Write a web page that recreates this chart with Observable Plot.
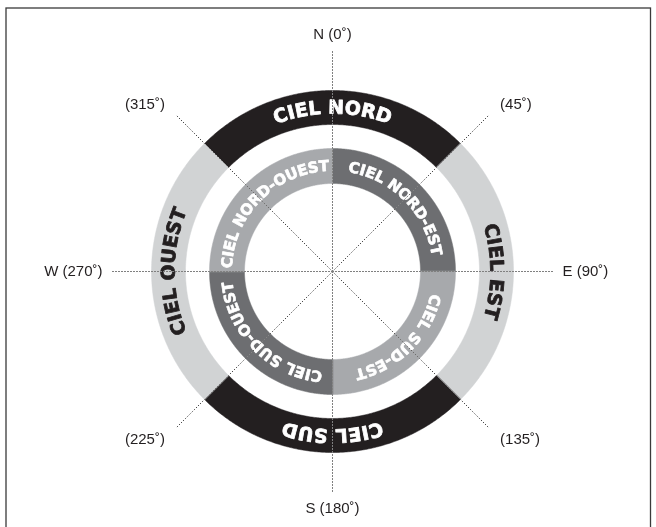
<!DOCTYPE html>
<html><head><meta charset="utf-8">
<script src="https://cdn.jsdelivr.net/npm/d3@7"></script>
<script src="https://cdn.jsdelivr.net/npm/@observablehq/plot@0.6"></script>
<style>body{margin:0;background:#fff} #chart svg{display:block}</style>
</head><body><div id="chart"></div>
<script>
// ---- data ----
const outerNames = ["CIEL NORD", "CIEL EST", "CIEL SUD", "CIEL OUEST"];
const outerAngles = [0, 90, 180, 270];
const outerFills = ["#231f20", "#d1d3d4", "#231f20", "#d1d3d4"];
const outerTextColors = ["#ffffff", "#231f20", "#ffffff", "#231f20"];
const innerNames = ["CIEL NORD-EST", "CIEL SUD-EST", "CIEL SUD-OUEST", "CIEL NORD-OUEST"];
const innerAngles = [45, 135, 225, 315];
const innerFills = ["#6d6e71", "#a7a9ac", "#6d6e71", "#a7a9ac"];
const innerTextColors = ["#ffffff", "#ffffff", "#ffffff", "#ffffff"];
const compassLabels = ["N (0˚)", "(45˚)", "E (90˚)", "(135˚)", "S (180˚)", "(225˚)", "W (270˚)", "(315˚)"];
const compassAngles = [0, 45, 90, 135, 180, 225, 270, 315];

// ---- layout ----
const W = 656, H = 527, CX = 332, CY = 271;
const OUTER = [147, 181], INNER = [88, 123];
const LINE_LEN = 222;
const rad = d => d * Math.PI / 180;
const px = (r, a) => r * Math.sin(rad(a));
const py = (r, a) => r * Math.cos(rad(a));

function ringPolys(names, centers, fills, radii, span) {
  const pts = [];
  names.forEach((n, i) => {
    const a0 = centers[i] - span / 2, a1 = centers[i] + span / 2;
    const steps = 180;
    for (let k = 0; k <= steps; k++) {
      const a = a0 + (a1 - a0) * k / steps;
      pts.push({id: n, fill: fills[i], x: px(radii[1], a), y: py(radii[1], a)});
    }
    for (let k = steps; k >= 0; k--) {
      const a = a0 + (a1 - a0) * k / steps;
      pts.push({id: n, fill: fills[i], x: px(radii[0], a), y: py(radii[0], a)});
    }
  });
  return pts;
}

const ctx = document.createElement("canvas").getContext("2d");
function arcLetters(names, centers, colors, rt, fs, track) {
  ctx.font = `bold ${fs}px "DejaVu Sans"`;
  const out = [];
  names.forEach((n, i) => {
    const chars = [...n];
    const ws = chars.map(c => ctx.measureText(c).width);
    const total = d3.sum(ws) + track * (chars.length - 1);
    const start = centers[i] - (total / rt) * 180 / Math.PI / 2;
    let cum = 0;
    chars.forEach((c, j) => {
      const a = start + ((cum + ws[j] / 2) / rt) * 180 / Math.PI;
      cum += ws[j] + track;
      out.push({ch: c, color: colors[i], rot: a, x: px(rt, a), y: py(rt, a)});
    });
  });
  return out;
}

const outerPts = ringPolys(outerNames, outerAngles, outerFills, OUTER, 90);
const innerPts = ringPolys(innerNames, innerAngles, innerFills, INNER, 90);
const outerLetters = arcLetters(outerNames, outerAngles, outerTextColors, (OUTER[0] + OUTER[1]) / 2, 19, 0.6);
const innerLetters = arcLetters(innerNames, innerAngles, innerTextColors, (INNER[0] + INNER[1]) / 2, 15, 0.4);

const labels = compassLabels.map((t, i) => {
  const a = compassAngles[i];
  const s = Math.sin(rad(a));
  const anchor = Math.abs(s) < 0.1 ? "middle" : s > 0 ? "start" : "end";
  const r = Math.abs(Math.abs(s) - 1) < 0.01 ? 230 : 237;
  return {t, anchor, x: px(r, a), y: py(r, a)};
});

const labelOpts = {x: "x", y: "y", text: "t", fill: "#231f20", fontSize: 15,
  fontFamily: "Liberation Sans, Arial, sans-serif", lineAnchor: "middle"};

const plot = Plot.plot({
  width: W, height: H,
  margin: 0,
  x: {domain: [-CX, W - CX], range: [0, W], axis: null},
  y: {domain: [-(H - CY), CY], range: [H, 0], axis: null},
  color: {type: "identity"},
  style: {background: "white"},
  marks: [
    Plot.frame({fill: "white", stroke: "none"}),
    Plot.line(outerPts, {x: "x", y: "y", z: "id", fill: "fill", stroke: "fill", strokeWidth: 0.5, curve: "linear-closed"}),
    Plot.line(innerPts, {x: "x", y: "y", z: "id", fill: "fill", stroke: "fill", strokeWidth: 0.5, curve: "linear-closed"}),
    Plot.text(outerLetters, {x: "x", y: "y", text: "ch", rotate: "rot", fill: "color", stroke: "color", strokeWidth: 0.8,
      fontSize: 19, fontWeight: "bold", fontFamily: "DejaVu Sans", textAnchor: "middle", lineAnchor: "middle"}),
    Plot.text(innerLetters, {x: "x", y: "y", text: "ch", rotate: "rot", fill: "color", stroke: "color", strokeWidth: 0.7,
      fontSize: 15, fontWeight: "bold", fontFamily: "DejaVu Sans", textAnchor: "middle", lineAnchor: "middle"}),
    Plot.link(compassAngles, {x1: d => 0, y1: d => 0, x2: d => px(LINE_LEN, d), y2: d => py(LINE_LEN, d),
      stroke: "white", strokeWidth: 1, strokeDasharray: "1,2", mixBlendMode: "difference"}),
    Plot.text(labels.filter(d => d.anchor === "middle"), {...labelOpts, textAnchor: "middle"}),
    Plot.text(labels.filter(d => d.anchor === "start"), {...labelOpts, textAnchor: "start"}),
    Plot.text(labels.filter(d => d.anchor === "end"), {...labelOpts, textAnchor: "end"}),
    Plot.frame({stroke: "#3a3a3a", strokeWidth: 1.3, insetLeft: 5.5, insetTop: 7.5, insetRight: 6, insetBottom: -20})
  ]
});
document.getElementById("chart").appendChild(plot);
</script>
</body></html>
